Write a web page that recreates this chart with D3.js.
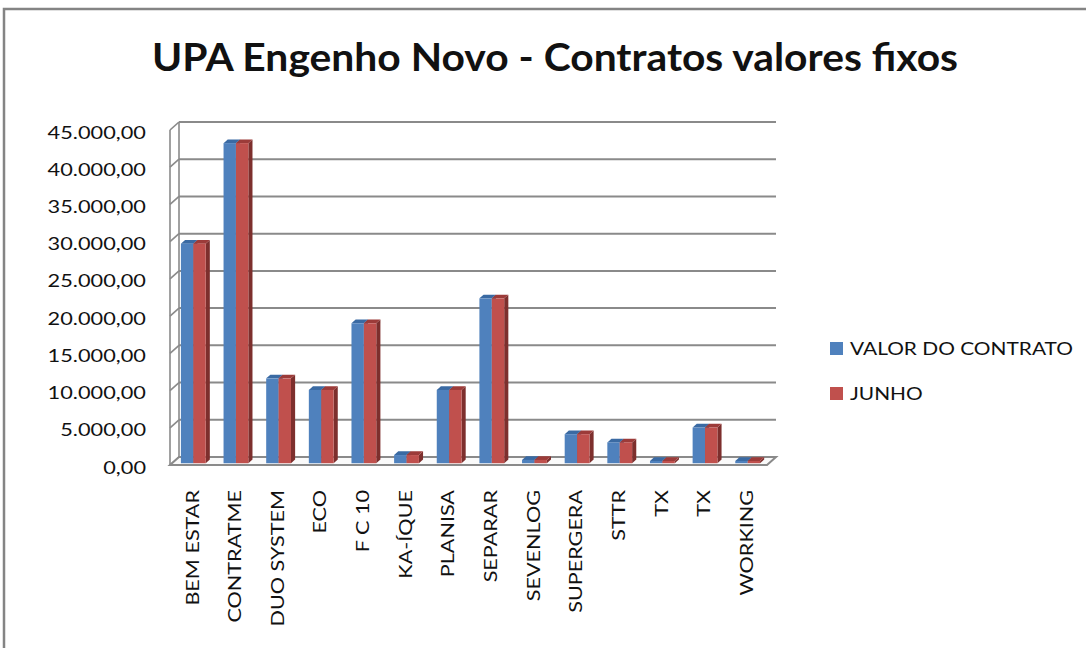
<!DOCTYPE html>
<html>
<head>
<meta charset="utf-8">
<script src="https://cdn.jsdelivr.net/npm/d3@7"></script>
<style>
  body { margin: 0; background: #fff; }
  text { font-family: Lato, "Open Sans", sans-serif; fill: #111; }
</style>
</head>
<body>
<div class="svg-container"></div>
<script>
// chart data
const categories = ['BEM ESTAR', 'CONTRATME', 'DUO SYSTEM', 'ECO', 'F C 10', 'KA-ÍQUE', 'PLANISA',
  'SEPARAR', 'SEVENLOG', 'SUPERGERA', 'STTR', 'TX', 'TX', 'WORKING'];
const valorContrato = [29500, 43000, 11400, 9850, 18800, 1100, 9850, 22150, 450, 3900, 2800, 300, 4800, 300];
const junho = [29500, 43000, 11400, 9850, 18800, 1100, 9850, 22150, 450, 3900, 2800, 300, 4800, 300];
const seriesNames = ['VALOR DO CONTRATO', 'JUNHO'];
const yTicks = [0, 5000, 10000, 15000, 20000, 25000, 30000, 35000, 40000, 45000];

const width = 1086;
const height = 648;
const plot = { left: 170, right: 767, bottom: 465, top: 130 };
const depth = { dx: 9, dy: -8 };   // 3d depth of the floor/walls
const barDepth = { front: 0.22, back: 0.68 };

const colours = [
  { front: '#4f81bd', top: '#3a6aa3', side: '#2f5785' },
  { front: '#c0504d', top: '#9c3b39', side: '#7d2f2d' }
];

// pt-BR number format: 45.000,00
const fmt = d3.formatLocale({ decimal: ',', thousands: '.', grouping: [3], currency: ['R$', ''] }).format(',.2f');

const svg = d3.select('.svg-container')
  .append('svg')
  .attr('width', width)
  .attr('height', height);

// chart frame
svg.append('rect')
  .attr('x', 4).attr('y', 9)
  .attr('width', 1100).attr('height', 700)
  .attr('fill', '#fff')
  .attr('stroke', '#848484')
  .attr('stroke-width', 2.5);

const x = d3.scaleBand()
  .domain(d3.range(categories.length))
  .range([plot.left, plot.right]);

const y = d3.scaleLinear()
  .domain([0, 45000])
  .range([plot.bottom, plot.top]);

const inner = d3.scaleBand()
  .domain([0, 1])
  .range([0, x.bandwidth()])
  .paddingOuter(0.72);

const gridColour = '#8a8a8a';

// back wall gridlines + left wall diagonals
const grid = svg.append('g');
yTicks.forEach(t => {
  const yy = y(t);
  if (t > 0) {
    grid.append('line')
      .attr('x1', plot.left + depth.dx).attr('x2', plot.right + depth.dx)
      .attr('y1', yy + depth.dy).attr('y2', yy + depth.dy)
      .attr('stroke', gridColour).attr('stroke-width', 2);
  }
  grid.append('line')
    .attr('x1', plot.left).attr('x2', plot.left + depth.dx)
    .attr('y1', yy).attr('y2', yy + depth.dy)
    .attr('stroke', gridColour).attr('stroke-width', 1.6);
});
// left wall verticals
[0, 1].forEach(k => {
  grid.append('line')
    .attr('x1', plot.left + k * depth.dx).attr('x2', plot.left + k * depth.dx)
    .attr('y1', y(0) + k * depth.dy).attr('y2', y(45000) + k * depth.dy)
    .attr('stroke', gridColour).attr('stroke-width', 1.6);
});
// floor
grid.append('path')
  .attr('d', `M${plot.left},${y(0)} L${plot.right},${y(0)} L${plot.right + depth.dx},${y(0) + depth.dy} L${plot.left + depth.dx},${y(0) + depth.dy} Z`)
  .attr('fill', '#fafafa')
  .attr('stroke', gridColour)
  .attr('stroke-width', 2);

// bars
const series = [valorContrato, junho];
const bars = svg.append('g');
categories.forEach((c, i) => {
  series.forEach((vals, s) => {
    const fx = x(i) + inner(s) + barDepth.front * depth.dx;
    const fy = barDepth.front * depth.dy;
    const w = inner.bandwidth();
    const ddx = (barDepth.back - barDepth.front) * depth.dx;
    const ddy = (barDepth.back - barDepth.front) * depth.dy;
    const yTop = y(vals[i]) + fy;
    const yBot = y(0) + fy;
    // side face
    bars.append('path')
      .attr('d', `M${fx + w},${yTop} L${fx + w + ddx},${yTop + ddy} L${fx + w + ddx},${yBot + ddy} L${fx + w},${yBot} Z`)
      .attr('fill', colours[s].side);
    // top face
    bars.append('path')
      .attr('d', `M${fx},${yTop} L${fx + ddx},${yTop + ddy} L${fx + w + ddx},${yTop + ddy} L${fx + w},${yTop} Z`)
      .attr('fill', colours[s].top);
    // front face
    bars.append('rect')
      .attr('x', fx).attr('y', yTop)
      .attr('width', w).attr('height', yBot - yTop)
      .attr('fill', colours[s].front);
  });
});

// y tick labels
svg.append('g').selectAll('text')
  .data(yTicks)
  .enter()
  .append('text')
  .attr('text-anchor', 'end')
  .attr('dominant-baseline', 'central')
  .attr('transform', d => `translate(146,${y(d) + 2}) scale(1.28,1)`)
  .style('font-size', '17px')
  .text(d => fmt(d));

// x labels
svg.append('g').selectAll('text')
  .data(categories)
  .enter()
  .append('text')
  .attr('text-anchor', 'end')
  .attr('dominant-baseline', 'central')
  .attr('transform', (d, i) => `translate(${x(i) + x.bandwidth() / 2},490) rotate(-90) scale(1.2,1)`)
  .style('font-size', '18px')
  .text(d => d);

// title
svg.append('text')
  .attr('x', 555 - 806 / 2).attr('y', 71)
  .style('font-size', '39px')
  .style('font-weight', 'bold')
  .attr('textLength', 806)
  .attr('lengthAdjust', 'spacingAndGlyphs')
  .text('UPA Engenho Novo - Contratos valores fixos');

// legend
const legend = svg.append('g').selectAll('g')
  .data(seriesNames)
  .enter()
  .append('g')
  .attr('transform', (d, i) => `translate(830,${342 + i * 45})`);
legend.append('rect')
  .attr('width', 13).attr('height', 13)
  .attr('fill', (d, i) => colours[i].front);
legend.append('text')
  .attr('transform', 'translate(20,13) scale(1.16,1)')
  .style('font-size', '18px')
  .text(d => d);
</script>
</body>
</html>
